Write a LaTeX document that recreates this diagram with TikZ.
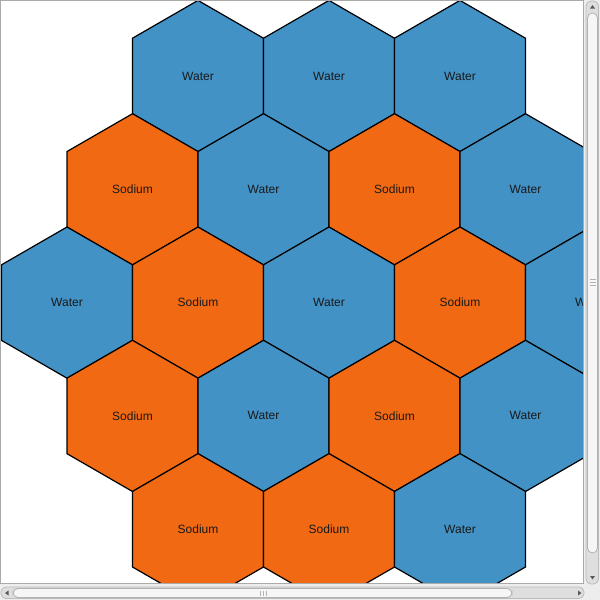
\documentclass[tikz,border=0pt]{standalone}
\usepackage{fontspec}
\setmainfont{Liberation Sans}
\definecolor{wblue}{RGB}{66,146,198}
\definecolor{sorange}{RGB}{241,105,19}
\definecolor{winbg}{RGB}{237,237,237}
\definecolor{frameg}{RGB}{170,170,170}
\definecolor{trackg}{RGB}{222,222,222}
\definecolor{thumbg}{RGB}{246,246,246}
\definecolor{arrowg}{RGB}{90,90,90}
\tikzset{
  hexw/.style={fill=wblue, draw=black, line width=1.2pt, line join=miter},
  hexs/.style={fill=sorange, draw=black, line width=1.2pt, line join=miter},
  lbl/.style={font=\fontsize{12}{14}\selectfont, text=black!90, inner sep=0pt},
  track/.style={fill=trackg, draw=frameg!80, line width=0.8pt, rounded corners=5pt},
  thumb/.style={fill=thumbg, draw=frameg!90, line width=0.8pt, rounded corners=5pt},
  grip/.style={draw=frameg!90, line width=0.8pt}
}
\begin{document}
\begin{tikzpicture}[x=1pt,y=-1pt]
\useasboundingbox (0,0) rectangle (600,600);
\fill[winbg] (0,0) rectangle (600,600);
\fill[white] (0.5,0.5) rectangle (583.5,583.5);
\begin{scope}
\clip (1,1) rectangle (583,583);
\foreach \x/\y/\t/\s [count=\i] in {
  198/76/Water/hexw, 329/76/Water/hexw, 460/76/Water/hexw,
  132.5/189.3/Sodium/hexs, 263.5/189.3/Water/hexw, 394.5/189.3/Sodium/hexs, 525.5/189.3/Water/hexw,
  67/302.6/Water/hexw, 198/302.6/Sodium/hexs, 329/302.6/Water/hexw, 460/302.6/Sodium/hexs, 591/302.6/Water/hexw,
  132.5/415.9/Sodium/hexs, 263.5/415.9/Water/hexw, 394.5/415.9/Sodium/hexs, 525.5/415.9/Water/hexw,
  198/529.2/Sodium/hexs, 329/529.2/Sodium/hexs, 460/529.2/Water/hexw} {
  \path[\s] (\x,\y) +(90:75.6) -- +(30:75.6) -- +(-30:75.6) -- +(-90:75.6) -- +(-150:75.6) -- +(150:75.6) -- cycle;
  \node[lbl] (h\i) at (\x,\y) {\t};
}
\end{scope}
\draw[frameg, line width=1pt] (0.5,0.5) rectangle (583.5,583.5);
% vertical scrollbar
\path[track] (586,1) rectangle (598.5,584);
\path[thumb] (587.5,13) rectangle (597.5,553);
\foreach \k in {0,1,2} \draw[grip] (589.5,{279+3*\k}) -- (595.5,{279+3*\k});
\fill[arrowg] (590,8.5) -- (595,8.5) -- (592.5,5) -- cycle;
\fill[arrowg] (590,576) -- (595,576) -- (592.5,579.5) -- cycle;
% horizontal scrollbar
\path[track] (1,587) rectangle (584,598.5);
\path[thumb] (13,588.5) rectangle (512,597.5);
\foreach \k in {0,1,2} \draw[grip] ({260+3*\k},590.5) -- ({260+3*\k},595.5);
\fill[arrowg] (8.5,590.5) -- (8.5,595.5) -- (5,593) -- cycle;
\fill[arrowg] (578,590.5) -- (578,595.5) -- (581.5,593) -- cycle;
\end{tikzpicture}
\end{document}
